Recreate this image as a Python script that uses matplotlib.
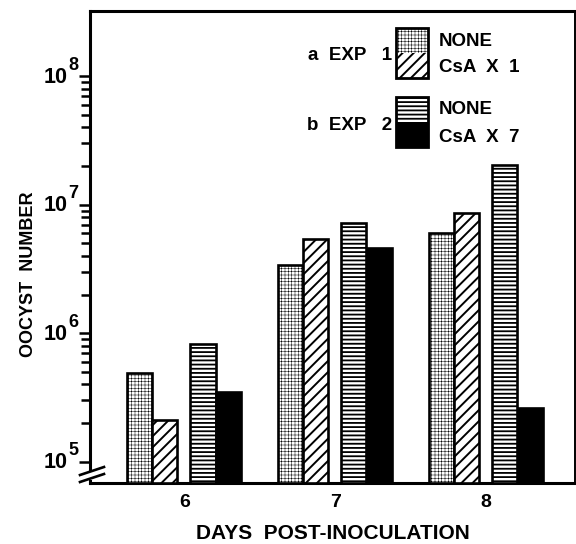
import matplotlib
matplotlib.use("Agg")
import matplotlib.pyplot as plt
import matplotlib.ticker as mticker
import matplotlib.transforms as mtrans
from matplotlib.patches import Rectangle
from matplotlib.lines import Line2D
import numpy as np

# ---- data ----
days = [6, 7, 8]
exp1_none = [4.9e5, 3.4e6, 6.0e6]
exp1_csa1 = [2.1e5, 5.4e6, 8.6e6]
exp2_none = [8.3e5, 7.2e6, 2.04e7]
exp2_csa7 = [3.5e5, 4.6e6, 2.6e5]
major_ticks = [1e5, 1e6, 1e7, 1e8]
major_exps = ['5', '6', '7', '8']
minor_ticks = [m * 10.0 ** e for e in (5, 6, 7) for m in range(2, 10)]

plt.rcParams['font.family'] = ['Liberation Sans', 'DejaVu Sans']
plt.rcParams['font.weight'] = 'bold'
plt.rcParams['hatch.linewidth'] = 1.0

W, H = 576, 544
fig = plt.figure(figsize=(W / 100, H / 100), dpi=100)
L, R, T, B = 90, 575, 11, 483
ax = fig.add_axes([L / W, 1 - B / H, (R - L) / W, (B - T) / H])

ymin, ymax = 10 ** 4.835, 10 ** 8.508
ax.set_yscale('log')
ax.set_ylim(ymin, ymax)
ax.set_xlim(5.374, 8.589)

x = np.array(days, dtype=float)
w = 0.166
offs = [-0.295, -0.129, 0.123, 0.291]
styles = [
    dict(facecolor='white', hatch='+++++', hlw=0.35),
    dict(facecolor='white', hatch='///', hlw=1.4),
    dict(facecolor='white', hatch='----', hlw=1.3),
    dict(facecolor='black', hatch=None, hlw=1.0),
]
series = [exp1_none, exp1_csa1, exp2_none, exp2_csa7]
for vals, off, st in zip(series, offs, styles):
    v = np.array(vals)
    bars = ax.bar(x + off, v - ymin, bottom=ymin, width=w,
                  facecolor=st['facecolor'], edgecolor='black',
                  linewidth=1.9, hatch=st['hatch'], zorder=3)
    for b in bars:
        if hasattr(b, 'set_hatch_linewidth'):
            b.set_hatch_linewidth(st['hlw'])

ax.yaxis.set_major_locator(mticker.FixedLocator(major_ticks))
ax.yaxis.set_major_formatter(mticker.NullFormatter())
ax.yaxis.set_minor_locator(mticker.FixedLocator(minor_ticks))
ax.yaxis.set_minor_formatter(mticker.NullFormatter())
ax.tick_params(axis='y', which='major', direction='out', length=8, width=1.8)
ax.tick_params(axis='y', which='minor', direction='out', length=6.5, width=1.8)

# y tick labels "10" with a large exponent, as real text
base_tr = mtrans.offset_copy(ax.get_yaxis_transform(), fig=fig, x=-22, y=-1, units='dots')
exp_tr = mtrans.offset_copy(ax.get_yaxis_transform(), fig=fig, x=-22, y=11, units='dots')
for val, e in zip(major_ticks, major_exps):
    ax.text(0, val, '10', transform=base_tr, ha='right', va='center',
            fontsize=15.5, fontweight='bold', clip_on=False)
    ax.text(0, val, e, transform=exp_tr, ha='left', va='center',
            fontsize=13, fontweight='bold', clip_on=False)

ax.set_xticks(days)
ax.set_xticklabels([str(d) for d in days])
ax.tick_params(axis='x', length=0, labelsize=14, pad=8)

for s in ['left', 'bottom', 'top']:
    ax.spines[s].set_linewidth(2.2)
ax.spines['right'].set_linewidth(1.4)

ax.set_ylabel('OOCYST  NUMBER', fontsize=13, fontweight='bold')
ax.yaxis.set_label_coords((37 - L) / (R - L), (B - 274) / (B - T))
ax.set_xlabel('DAYS  POST-INOCULATION', fontsize=15, fontweight='bold', labelpad=9)


def px(xp, yp):
    return (xp / W, 1 - yp / H)


# axis break on the left spine
gap = Rectangle(px(86, 480), 8 / W, 8 / H, transform=fig.transFigure,
                facecolor='white', edgecolor='none', zorder=5)
fig.patches.append(gap)
for dy in (0, 7):
    x0, y0 = px(80, 475 + dy)
    x1, y1 = px(104, 467 + dy)
    fig.lines.append(Line2D([x0, x1], [y0, y1], transform=fig.transFigure,
                            color='black', linewidth=1.9, zorder=6))


# custom legend
def box(xl, yt, wd, ht, **kw):
    r = Rectangle(px(xl, yt + ht), wd / W, ht / H, transform=fig.transFigure, **kw)
    fig.patches.append(r)
    return r


fs = 13.5
for (yt, top_st, bot_st, label, l1, l2) in [
        (28, styles[0], styles[1], 'a  EXP   1', 'NONE', 'CsA  X  1'),
        (97, styles[2], styles[3], 'b  EXP   2', 'NONE', 'CsA  X  7')]:
    hh = 25
    for k, st in enumerate((top_st, bot_st)):
        r = box(396, yt + k * hh, 32, hh, facecolor=st['facecolor'],
                edgecolor='black', linewidth=0, hatch=st['hatch'], zorder=4)
        if hasattr(r, 'set_hatch_linewidth'):
            r.set_hatch_linewidth(st['hlw'])
    box(396, yt, 32, 2 * hh, facecolor='none', edgecolor='black',
        linewidth=2.0, zorder=5)
    fig.text(*px(392, yt + 28), label, ha='right', va='center',
             fontsize=fs, fontweight='bold')
    fig.text(*px(439, yt + 13), l1, ha='left', va='center',
             fontsize=fs, fontweight='bold')
    fig.text(*px(439, yt + 40), l2, ha='left', va='center',
             fontsize=fs, fontweight='bold')

fig.savefig('out.png', dpi=100)
